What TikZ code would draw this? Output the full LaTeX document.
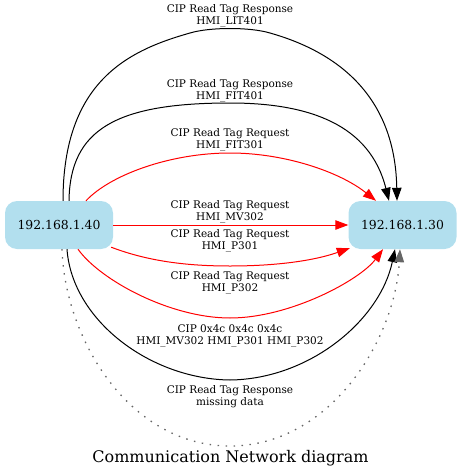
\documentclass[tikz,border=0pt]{standalone}
\usepackage{fontspec}
\setmainfont{DejaVu Serif}
\usetikzlibrary{arrows.meta}
\definecolor{nodeblue}{HTML}{B2DFEE}
\definecolor{dotgray}{HTML}{666666}
\begin{document}
\begin{tikzpicture}[x=1pt,y=-1pt,
  host/.style={fill=nodeblue, rounded corners=12pt, minimum width=108pt, minimum height=48pt, inner sep=0pt, font=\fontsize{12.4}{14}\selectfont},
  lbl/.style={font=\fontsize{10.5}{12}\selectfont, align=center, inner sep=0pt},
  ttl/.style={font=\fontsize{16}{19}\selectfont, inner sep=0pt},
  edgeline/.style={line width=1pt, -{Triangle[length=13pt,width=9.5pt]}},
  req/.style={edgeline, red},
  resp/.style={edgeline, black},
  miss/.style={line width=1.3pt, dotgray, dash pattern=on 1.5pt off 6.5pt, -{Triangle[length=13pt,width=9.5pt]}}]
\useasboundingbox (0,0) rectangle (461,474);
\node[host] (A) at (59,225) {192.168.1.40};
\node[host] (B) at (402.5,225) {192.168.1.30};
% edges
\draw[resp] ([xshift=4pt]A.north) .. controls (63,80) and (130,50) .. (190,33) .. controls (210,27) and (250,27) .. (270,33) .. controls (330,50) and (395,90) .. ([xshift=-5.5pt]B.north);
\draw[resp] ([xshift=10pt]A.north) .. controls (70,130) and (115,103) .. (230,103) .. controls (310,103) and (370,125) .. ([xshift=-13.5pt]B.north);
\draw[req] ([xshift=27pt]A.north) .. controls (110,175) and (170,153) .. (230,153) .. controls (285,153) and (340,172) .. ([xshift=-26.5pt]B.north);
\draw[req] (A.east) -- (B.west);
\draw[req] ([xshift=-2pt,yshift=2pt]A.south east) .. controls (150,262) and (190,266) .. (230,266) .. controls (270,266) and (310,262) .. ([xshift=1.5pt,yshift=1pt]B.south west);
\draw[req] ([xshift=19pt]A.south) .. controls (100,280) and (170,318) .. (230,318) .. controls (290,318) and (360,280) .. ([xshift=-19.5pt]B.south);
\draw[resp] ([xshift=8pt]A.south) .. controls (72,320) and (150,379) .. (230,380) .. controls (310,379) and (380,320) .. ([xshift=-7.5pt]B.south);
\draw[miss] ([xshift=3pt]A.south) .. controls (65,340) and (130,446) .. (230,446) .. controls (330,446) and (395,340) .. ([xshift=-2.5pt]B.south);
% labels
\node[lbl] (l1) at (230,16) {CIP Read Tag Response\\HMI\_LIT401};
\node[lbl] (l2) at (230,91) {CIP Read Tag Response\\HMI\_FIT401};
\node[lbl] (l3) at (230,140) {CIP Read Tag Request\\HMI\_FIT301};
\node[lbl] (l4) at (230,212) {CIP Read Tag Request\\HMI\_MV302};
\node[lbl] (l5) at (230,241) {CIP Read Tag Request\\HMI\_P301};
\node[lbl] (l6) at (230,283) {CIP Read Tag Request\\HMI\_P302};
\node[lbl] (l7) at (230,336) {CIP 0x4c 0x4c 0x4c\\HMI\_MV302 HMI\_P301 HMI\_P302};
\node[lbl] (l8) at (230,397) {CIP Read Tag Response\\missing data};
\node[ttl] (title) at (230.5,458) {Communication Network diagram};
\end{tikzpicture}
\end{document}
